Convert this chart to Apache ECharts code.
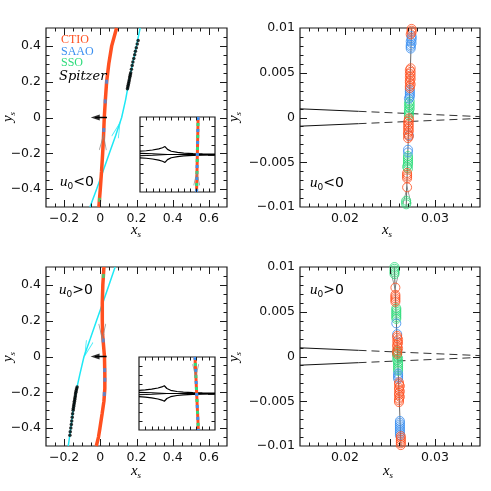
<!DOCTYPE html>
<html>
<head>
<meta charset="utf-8">
<script src="https://cdn.jsdelivr.net/npm/echarts@6/dist/echarts.min.js"></script>
<style>
html, body { margin: 0; padding: 0; background: #fff; }
#chart { width: 491px; height: 491px; }
</style>
</head>
<body>
<div id="chart"></div>
<script>
// ---- colours
const CTIO_C = "#ff5020";
const SAAO_C = "#3a8ff0";
const SSO_C = "#2fdc7c";
const CYAN_C = "#1ee8f5";
const ARROW_C = "#8a8a8a";

// ---- tick labels
const wideXLabels = [-0.2, 0, 0.2, 0.4, 0.6];
const wideYLabels = [-0.4, -0.2, 0, 0.2, 0.4];
const zoomXLabels = [0.02, 0.03];
const zoomXMajors = [0.02, 0.025, 0.03];
const zoomYLabels = [-0.01, -0.005, 0, 0.005, 0.01];

// ---- u0<0, wide view
const ctioTrackNeg = [[-0.008, -0.5], [0, -0.4], [0.007, -0.3], [0.013, -0.2], [0.018, -0.1], [0.022, 0], [0.028, 0.1], [0.035, 0.2], [0.047, 0.3], [0.063, 0.4], [0.09, 0.5]];
const spitzerTrackNeg = [[-0.057, -0.5], [-0.02, -0.4], [0.015, -0.3], [0.05, -0.2], [0.085, -0.1], [0.118, 0], [0.14, 0.1], [0.158, 0.2], [0.178, 0.3], [0.2, 0.4], [0.22, 0.5]];
const spitzerPtsNeg = [[0.150, 0.16], [0.152, 0.17], [0.154, 0.18], [0.156, 0.19], [0.158, 0.2], [0.160, 0.21], [0.162, 0.22], [0.164, 0.23], [0.166, 0.24], [0.168, 0.25], [0.172, 0.27], [0.176, 0.29], [0.180, 0.31], [0.185, 0.33], [0.190, 0.35], [0.194, 0.37], [0.199, 0.39], [0.204, 0.41], [0.209, 0.43]];
const saaoOnTrackNeg = [[0.035, 0.2], [0.027, 0.09], [0.019, -0.07]];
const ssoOnTrackNeg = [[-0.004, -0.46]];
const causticMarkNeg = [[-0.028, 0], [0.037, 0]];
const ctioArrowNeg = [[0.016, -0.14]];
const cyanArrowNeg = [[0.095, -0.07]];

// ---- u0>0, wide view
const ctioTrackPos = [[-0.022, -0.5], [-0.01, -0.45], [-0.002, -0.4], [0.01, -0.32], [0.02, -0.25], [0.025, -0.18], [0.025, -0.1], [0.023, 0], [0.018, 0.06], [0.013, 0.12], [0.011, 0.2], [0.011, 0.3], [0.014, 0.4], [0.02, 0.5]];
const spitzerTrackPos = [[-0.177, -0.5], [-0.163, -0.4], [-0.15, -0.3], [-0.135, -0.2], [-0.113, -0.1], [-0.09, 0], [-0.055, 0.1], [-0.021, 0.2], [0.014, 0.3], [0.048, 0.4], [0.082, 0.5]];
const spitzerPtsPos = [[-0.128, -0.17], [-0.131, -0.18], [-0.133, -0.19], [-0.135, -0.2], [-0.137, -0.21], [-0.138, -0.22], [-0.14, -0.23], [-0.141, -0.24], [-0.143, -0.25], [-0.144, -0.26], [-0.146, -0.27], [-0.147, -0.28], [-0.149, -0.29], [-0.15, -0.3], [-0.153, -0.32], [-0.155, -0.34], [-0.158, -0.36], [-0.16, -0.38], [-0.163, -0.4], [-0.166, -0.42], [-0.168, -0.44]];
const saaoOnTrackPos = [[0.016, 0.09], [0.024, -0.076], [0.025, -0.13], [0.022, -0.21]];
const ssoOnTrackPos = [[0.017, 0.45]];
const causticMarkPos = [[-0.029, 0], [0.035, 0]];
const ctioArrowPos = [[0.011, 0.14]];
const cyanArrowPos = [[-0.072, 0.045]];

// ---- zoomed caustic (both signs)
const causticUpSolid = [[0.015, 0.00097], [0.0215, 0.00069]];
const causticUpDash = [[0.0215, 0.00069], [0.035, 0.0001]];
const causticLoSolid = [[0.015, -0.00097], [0.0215, -0.00069]];
const causticLoDash = [[0.0215, -0.00069], [0.035, -0.0001]];

// ---- u0<0, zoom
const trackZoomNeg = [[0.0268, -0.01], [0.0274, 0.01]];
const arrowZoomNeg = [[0.0269, -0.0087]];
const ctioZoomNeg = [[0.0274, 0.0099], [0.0274, 0.0097], [0.0274, 0.0095], [0.0273, 0.0093],
  [0.0273, 0.0055], [0.0272, 0.0053], [0.0273, 0.0051], [0.0272, 0.0049], [0.0273, 0.0047], [0.0272, 0.0045], [0.0273, 0.0043], [0.0272, 0.0041], [0.0272, 0.0039], [0.0273, 0.0037], [0.0272, 0.0035], [0.0272, 0.0033],
  [0.0271, -0.0001], [0.0271, -0.0003], [0.0270, -0.0005], [0.0271, -0.0007], [0.0270, -0.0009], [0.0271, -0.0011], [0.0270, -0.0013], [0.0271, -0.0015], [0.0270, -0.0017], [0.0270, -0.0019], [0.0271, -0.0021], [0.0270, -0.0023],
  [0.0269, -0.0062], [0.0269, -0.0064], [0.0269, -0.0066], [0.0269, -0.0068], [0.0269, -0.0078]];
const saaoZoomNeg = [[0.0274, 0.0091], [0.0274, 0.0089], [0.0274, 0.0087], [0.0273, 0.0085], [0.0274, 0.0083], [0.0273, 0.0081], [0.0273, 0.0079], [0.0273, 0.0077],
  [0.0272, 0.0031], [0.0272, 0.0029], [0.0272, 0.0027], [0.0272, 0.0025], [0.0272, 0.0023], [0.0271, 0.0021], [0.0271, -0.002], [0.0270, -0.0036], [0.0270, -0.0039]];
const ssoZoomNeg = [[0.0272, 0.0018], [0.0271, 0.0016], [0.0272, 0.0014], [0.0271, 0.0012], [0.0272, 0.001], [0.0271, 0.0008], [0.0271, 0.0006], [0.0271, 0.0004], [0.0271, 0.0002],
  [0.0270, -0.0043], [0.0270, -0.0045], [0.0270, -0.0047], [0.0270, -0.0049], [0.0270, -0.0051], [0.0270, -0.0053], [0.0269, -0.0055], [0.0270, -0.0057],
  [0.0268, -0.0093], [0.0268, -0.0095], [0.0268, -0.0097]];

// ---- u0>0, zoom
const trackZoomPos = [[0.02622, -0.01], [0.02548, 0.01]];
const arrowZoomPos = [[0.02555, 0.0085]];
const ctioZoomPos = [[0.0256, 0.0077], [0.0256, 0.0069], [0.0256, 0.0067], [0.0256, 0.0065], [0.0256, 0.0063], [0.0256, 0.0061],
  [0.0258, 0.0023], [0.0258, 0.0021], [0.0259, 0.0019], [0.0258, 0.0017], [0.0259, 0.0015], [0.0258, 0.0013], [0.0258, 0.0011], [0.0259, 0.0009], [0.0258, 0.0007], [0.0258, 0.0005], [0.0258, 0.0003],
  [0.0260, -0.0029], [0.0260, -0.0031], [0.0261, -0.0033], [0.0260, -0.0035], [0.0260, -0.0037], [0.0261, -0.0039], [0.0260, -0.0041], [0.0260, -0.0043], [0.0261, -0.0045], [0.0260, -0.0047], [0.0260, -0.0049], [0.0260, -0.0051],
  [0.0262, -0.0089], [0.0262, -0.0091], [0.0262, -0.0093], [0.0262, -0.0095], [0.0262, -0.0097], [0.0262, -0.0099]];
const saaoZoomPos = [[0.0257, 0.0037], [0.0258, 0.0025], [0.0259, -0.0019], [0.0259, -0.0021], [0.0259, -0.0023], [0.0259, -0.0025],
  [0.0261, -0.0072], [0.0261, -0.0074], [0.0261, -0.0076], [0.0261, -0.0078], [0.0261, -0.008], [0.0261, -0.0082], [0.0261, -0.0084], [0.0261, -0.0086], [0.0261, -0.0088]];
const ssoZoomPos = [[0.0255, 0.01], [0.0255, 0.0098], [0.0255, 0.0096], [0.0255, 0.0094], [0.0255, 0.0092],
  [0.0257, 0.0054], [0.0257, 0.0052], [0.0257, 0.005], [0.0257, 0.0048], [0.0257, 0.0046], [0.0257, 0.0044], [0.0257, 0.0042],
  [0.0258, 0.0006], [0.0258, 0.0004], [0.0258, 0.0002], [0.0258, 0], [0.0259, -0.0002], [0.0258, -0.0004], [0.0259, -0.0006], [0.0259, -0.0008], [0.0259, -0.001], [0.0259, -0.0012], [0.0259, -0.0014], [0.0259, -0.0016]];

// ---- insets (caustic close-up, arbitrary units)
const insetOuterUp = [[0, 0.35], [1, 0.4], [2, 0.48], [3, 0.6], [3.6, 0.72], [4, 0.85], [4.4, 0.55], [5, 0.35], [6, 0.22], [7, 0.15], [8.5, 0.09], [10, 0.06], [12, 0.04]];
const insetOuterLo = [[0, -0.35], [1, -0.4], [2, -0.48], [3, -0.6], [3.6, -0.72], [4, -0.85], [4.4, -0.55], [5, -0.35], [6, -0.22], [7, -0.15], [8.5, -0.09], [10, -0.06], [12, -0.04]];
const insetInnerUp = [[0, 0.12], [2, 0.08], [4.4, 0], [12, 0]];
const insetInnerLo = [[0, -0.12], [2, -0.08], [4.4, 0]];
const insetTrackNeg = [[9.3, 4], [9.05, -4]];
const insetArrowNeg = [[9.08, -2.6]];
const insetTrackPos = [[8.84, 4], [9.37, -4]];
const insetArrowPos = [[8.95, 2.5]];

const CHEVRON = "path://M0,20L5,0L10,20";
const FRAME = "#1a1a1a";

function fmt(v) {
  return (v === 0 ? "0" : String(v)).replace("-", "\u2212");
}

// axis ranges: min, max, minor step, major ticks, labels
const wideX = { min: -0.3, max: 0.7, step: 0.05, majors: wideXLabels, labels: wideXLabels };
const wideY = { min: -0.5, max: 0.5, step: 0.05, majors: wideYLabels, labels: wideYLabels };
const zoomX = { min: 0.015, max: 0.035, step: 0.001, majors: zoomXMajors, labels: zoomXLabels };
const zoomY = { min: -0.01, max: 0.01, step: 0.001, majors: zoomYLabels, labels: zoomYLabels };
const insetX = { min: 0, max: 12, step: 1, majors: [], labels: null };
const insetY = { min: -4, max: 4, step: 1, majors: [0], labels: null };
const panels = [[wideX, wideY], [zoomX, zoomY], [wideX, wideY], [zoomX, zoomY], [insetX, insetY], [insetX, insetY]];
const rects = [
  { left: 46, top: 28, width: 181, height: 179 },
  { left: 300, top: 28, width: 180, height: 179 },
  { left: 46, top: 267, width: 181, height: 179 },
  { left: 300, top: 267, width: 180, height: 179 },
  { left: 140, top: 117, width: 75, height: 75 },
  { left: 139, top: 357, width: 76, height: 73 },
];

function axis(r, g) {
  return {
    type: "value", gridIndex: g, min: r.min, max: r.max,
    axisLine: { show: false, onZero: false },
    axisTick: { show: false },
    splitLine: { show: false },
    axisLabel: r.labels
      ? { show: true, customValues: r.labels, formatter: fmt, color: "#111", fontFamily: "DejaVu Sans", fontSize: 12.5, margin: 5 }
      : { show: false },
  };
}
const xAxes = panels.map((p, g) => axis(p[0], g));
const yAxes = panels.map((p, g) => axis(p[1], g));

function line(g, data, color, width, extra) {
  return Object.assign({
    type: "line", data, xAxisIndex: g, yAxisIndex: g,
    symbol: "none", silent: true, z: 3,
    lineStyle: { color, width },
  }, extra || {});
}

function dots(g, data, symbol, size, style, extra) {
  return Object.assign({
    type: "scatter", data, xAxisIndex: g, yAxisIndex: g,
    symbol, symbolSize: size, silent: true, z: 4, itemStyle: style,
  }, extra || {});
}

const open = (c, w) => ({ color: "rgba(0,0,0,0)", borderColor: c, borderWidth: w || 1 });

const series = [];
function wide(g, ctio, cyanTrack, spz, saao, sso, mark, redArrow, redRot, cyanArrow, cyanRot) {
  series.push(line(g, cyanTrack, CYAN_C, 1.5));
  series.push(line(g, ctio, CTIO_C, 3.5));
  series.push(dots(g, saao, "rect", [3, 4], { color: SAAO_C }));
  series.push(dots(g, sso, "rect", [3, 4], { color: SSO_C }));
  series.push(dots(g, spz, "circle", 3.5, { color: "#000" }));
  series.push(line(g, mark, "#000", 1.5));
  series.push(dots(g, [mark[0]], "triangle", [6, 9], { color: "#000" }, { symbolRotate: 90 }));
  series.push(dots(g, redArrow, CHEVRON, [7, 15], open(ARROW_C, 1.2), { symbolRotate: redRot }));
  series.push(dots(g, cyanArrow, CHEVRON, [7, 15], open(CYAN_C, 1.2), { symbolRotate: cyanRot }));
}
wide(0, ctioTrackNeg, spitzerTrackNeg, spitzerPtsNeg, saaoOnTrackNeg, ssoOnTrackNeg, causticMarkNeg, ctioArrowNeg, -3, cyanArrowNeg, -19);
wide(2, ctioTrackPos, spitzerTrackPos, spitzerPtsPos, saaoOnTrackPos, ssoOnTrackPos, causticMarkPos, ctioArrowPos, 180, cyanArrowPos, 161);

function zoom(g, track, arrow, arrowRot, ctio, saao, sso) {
  series.push(line(g, causticUpSolid, "#111", 1));
  series.push(line(g, causticLoSolid, "#111", 1));
  series.push(line(g, causticUpDash, "#333", 1, { lineStyle: { color: "#333", width: 1, type: [8, 5] } }));
  series.push(line(g, causticLoDash, "#333", 1, { lineStyle: { color: "#333", width: 1, type: [8, 5] } }));
  series.push(line(g, track, "#666", 1));
  series.push(dots(g, arrow, CHEVRON, [8, 17], open("#666", 1), { symbolRotate: arrowRot }));
  series.push(dots(g, sso, "circle", 9, open(SSO_C)));
  series.push(dots(g, saao, "circle", 9, open(SAAO_C)));
  series.push(dots(g, ctio, "circle", 9, open(CTIO_C)));
}
zoom(1, trackZoomNeg, arrowZoomNeg, 0, ctioZoomNeg, saaoZoomNeg, ssoZoomNeg);
zoom(3, trackZoomPos, arrowZoomPos, 180, ctioZoomPos, saaoZoomPos, ssoZoomPos);

function inset(g, track, arrow, arrowRot) {
  [insetOuterUp, insetOuterLo, insetInnerUp, insetInnerLo].forEach((d) => series.push(line(g, d, "#000", 1.2, { z: 6 })));
  series.push(line(g, track, CTIO_C, 3, { z: 6 }));
  series.push(line(g, track, SAAO_C, 3, { z: 6, lineStyle: { color: SAAO_C, width: 3, type: [3, 9] } }));
  series.push(line(g, track, SSO_C, 3, { z: 6, lineStyle: { color: SSO_C, width: 3, type: [3, 9], dashOffset: 6 } }));
  series.push(dots(g, arrow, CHEVRON, [6, 13], open(ARROW_C, 1.2), { symbolRotate: arrowRot, z: 7 }));
}
inset(4, insetTrackNeg, insetArrowNeg, 0);
inset(5, insetTrackPos, insetArrowPos, 180);

// ---- text
const serif = "Liberation Serif";
const subRich = {
  v: { fontSize: 15, fontStyle: "italic", fontFamily: serif, fill: "#000", lineHeight: 18 },
  s: { fontSize: 9, fontStyle: "italic", fontFamily: serif, fill: "#000", lineHeight: 18, verticalAlign: "bottom" },
};
const uRich = {
  u: { fontSize: 15, fontStyle: "italic", fontFamily: serif, fill: "#000", lineHeight: 18 },
  z: { fontSize: 9, fontFamily: "DejaVu Sans", fill: "#000", lineHeight: 18, verticalAlign: "bottom" },
  t: { fontSize: 14, fontFamily: "DejaVu Sans", fill: "#000", lineHeight: 18 },
};
function label(x, y, text, rich, rot) {
  return {
    type: "text", x, y, rotation: rot || 0, z: 10,
    style: { text, rich, align: "center", verticalAlign: "middle" },
  };
}
const graphic = [
  label(136, 230, "{v|x}{s|s}", subRich),
  label(387, 230, "{v|x}{s|s}", subRich),
  label(136, 471, "{v|x}{s|s}", subRich),
  label(388, 471, "{v|x}{s|s}", subRich),
  label(8, 117, "{v|y}{s|s}", subRich, Math.PI / 2),
  label(234, 117, "{v|y}{s|s}", subRich, Math.PI / 2),
  label(8, 357, "{v|y}{s|s}", subRich, Math.PI / 2),
  label(234, 357, "{v|y}{s|s}", subRich, Math.PI / 2),
  label(77, 182, "{u|u}{z|0}{t|<0}", uRich),
  label(327, 183, "{u|u}{z|0}{t|<0}", uRich),
  label(76, 290, "{u|u}{z|0}{t|>0}", uRich),
  label(327, 290, "{u|u}{z|0}{t|>0}", uRich),
  { type: "text", left: 61, top: 34, z: 10, style: { text: "CTIO", fill: CTIO_C, font: '12px "Liberation Serif"' } },
  { type: "text", left: 61, top: 46, z: 10, style: { text: "SAAO", fill: SAAO_C, font: '12px "Liberation Serif"' } },
  { type: "text", left: 61, top: 57, z: 10, style: { text: "SSO", fill: SSO_C, font: '12px "Liberation Serif"' } },
  { type: "text", left: 59, top: 70, z: 10, style: { text: "Spitzer", fill: "#000", font: 'italic 13px "DejaVu Serif"' } },
];

const frame = { show: true, borderColor: FRAME, borderWidth: 1.2, backgroundColor: "rgba(0,0,0,0)" };
const grids = rects.map((r, g) => Object.assign({}, r, frame, g >= 4 ? { backgroundColor: "#fff", z: 5 } : {}));

const chart = echarts.init(document.getElementById("chart"));
chart.setOption({
  animation: false,
  backgroundColor: "#fff",
  grid: grids,
  xAxis: xAxes,
  yAxis: yAxes,
  series,
  graphic,
});

// tick marks on all four sides, placed through each grid's axis scales (own layer, on top)
const ticks = [];
panels.forEach(([xr, yr], g) => {
  const r = rects[g];
  const isMajor = (v, a) => a.majors.some((m) => Math.abs(m - v) < a.step * 1e-3);
  const add = (x1, y1, x2, y2) => ticks.push({ type: "line", silent: true, zlevel: 1, z: 9, shape: { x1, y1, x2, y2 }, style: { stroke: FRAME, lineWidth: 1 } });
  const nx = Math.round((xr.max - xr.min) / xr.step);
  for (let i = 1; i < nx; i++) {
    const v = xr.min + i * xr.step;
    const len = isMajor(v, xr) ? 7 : 3.5;
    const px = Math.round(chart.convertToPixel({ gridIndex: g }, [v, yr.min])[0]) + 0.5;
    add(px, r.top + r.height, px, r.top + r.height - len);
    add(px, r.top, px, r.top + len);
  }
  const ny = Math.round((yr.max - yr.min) / yr.step);
  for (let i = 1; i < ny; i++) {
    const v = yr.min + i * yr.step;
    const len = isMajor(v, yr) ? 7 : 3.5;
    const py = Math.round(chart.convertToPixel({ gridIndex: g }, [xr.min, v])[1]) + 0.5;
    add(r.left, py, r.left + len, py);
    add(r.left + r.width, py, r.left + r.width - len, py);
  }
});
chart.setOption({ graphic: graphic.concat(ticks) });
</script>
</body>
</html>
